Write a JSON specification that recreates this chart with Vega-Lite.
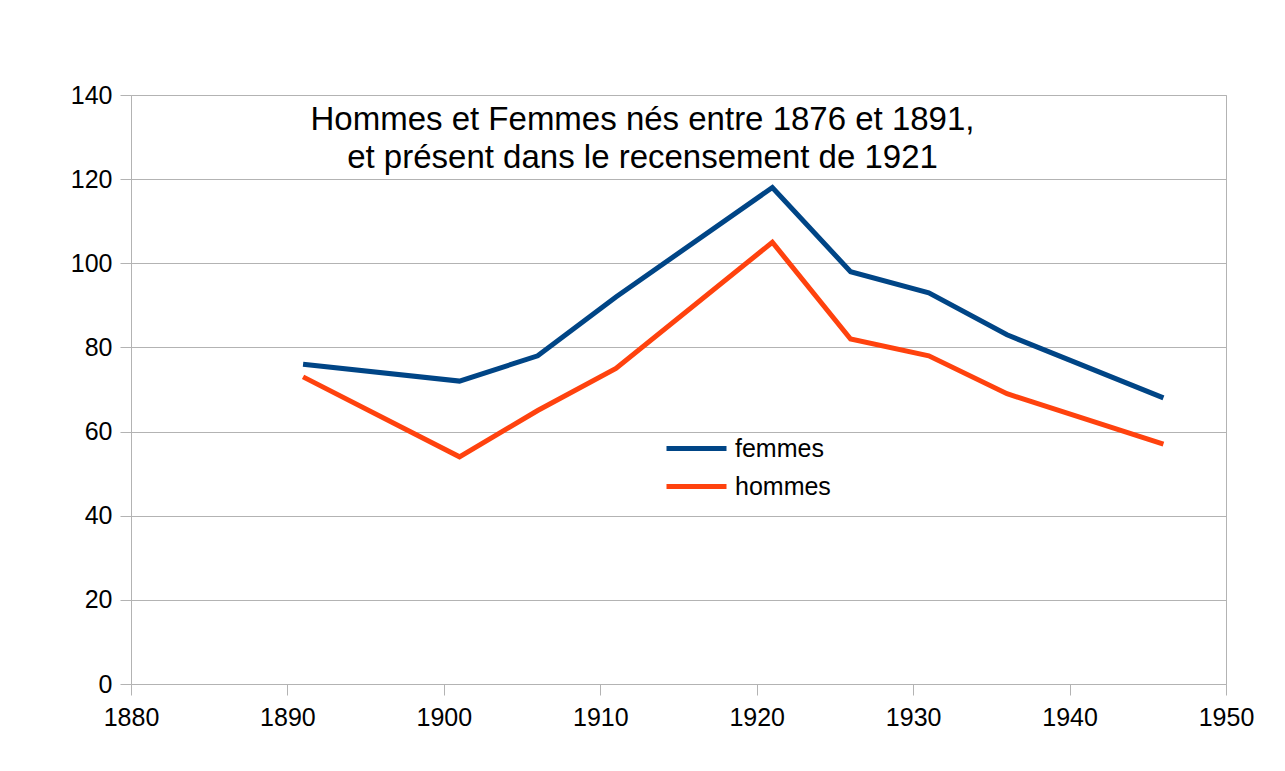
{
  "$schema": "https://vega.github.io/schema/vega-lite/v6.json",
  "width": 1095,
  "height": 589,
  "autosize": "none",
  "padding": {"left": 131, "top": 95, "right": 59, "bottom": 87},
  "background": "white",
  "config": {
    "font": "Liberation Sans",
    "view": {"stroke": "#b3b3b3", "strokeWidth": 1}
  },
  "title": {
    "text": ["Hommes et Femmes nés entre 1876 et 1891,", " et présent dans le recensement de 1921"],
    "font": "Liberation Sans",
    "fontSize": 33,
    "fontWeight": "normal",
    "color": "black",
    "lineHeight": 38,
    "anchor": "middle",
    "frame": "group",
    "dx": -36,
    "dy": 96
  },
  "data": {
    "values": [
      {"annee": 1891, "serie": "femmes", "valeur": 76},
      {"annee": 1901, "serie": "femmes", "valeur": 72},
      {"annee": 1906, "serie": "femmes", "valeur": 78},
      {"annee": 1911, "serie": "femmes", "valeur": 92},
      {"annee": 1921, "serie": "femmes", "valeur": 118},
      {"annee": 1926, "serie": "femmes", "valeur": 98},
      {"annee": 1931, "serie": "femmes", "valeur": 93},
      {"annee": 1936, "serie": "femmes", "valeur": 83},
      {"annee": 1946, "serie": "femmes", "valeur": 68},
      {"annee": 1891, "serie": "hommes", "valeur": 73},
      {"annee": 1901, "serie": "hommes", "valeur": 54},
      {"annee": 1906, "serie": "hommes", "valeur": 65},
      {"annee": 1911, "serie": "hommes", "valeur": 75},
      {"annee": 1921, "serie": "hommes", "valeur": 105},
      {"annee": 1926, "serie": "hommes", "valeur": 82},
      {"annee": 1931, "serie": "hommes", "valeur": 78},
      {"annee": 1936, "serie": "hommes", "valeur": 69},
      {"annee": 1946, "serie": "hommes", "valeur": 57}
    ]
  },
  "mark": {"type": "line", "strokeWidth": 5, "strokeJoin": "miter"},
  "encoding": {
    "x": {
      "field": "annee",
      "type": "quantitative",
      "scale": {"domain": [1880, 1950], "nice": false, "zero": false},
      "axis": {
        "title": null,
        "values": [1880, 1890, 1900, 1910, 1920, 1930, 1940, 1950],
        "format": "d",
        "grid": false,
        "domain": false,
        "tickColor": "#b3b3b3",
        "tickSize": 11,
        "labelPadding": 10,
        "labelFont": "Liberation Sans",
        "labelFontSize": 25,
        "labelColor": "black",
        "labelFlush": false
      }
    },
    "y": {
      "field": "valeur",
      "type": "quantitative",
      "scale": {"domain": [0, 140], "nice": false},
      "axis": {
        "title": null,
        "values": [0, 20, 40, 60, 80, 100, 120, 140],
        "grid": true,
        "gridColor": "#b3b3b3",
        "domain": false,
        "tickColor": "#b3b3b3",
        "tickSize": 11,
        "labelPadding": 8,
        "labelFont": "Liberation Sans",
        "labelFontSize": 25,
        "labelColor": "black"
      }
    },
    "color": {
      "field": "serie",
      "type": "nominal",
      "scale": {"domain": ["femmes", "hommes"], "range": ["#004586", "#ff420e"]},
      "legend": {
        "title": null,
        "orient": "none",
        "legendX": 553,
        "legendY": 341,
        "symbolType": "M-3,0H3",
        "symbolSize": 400,
        "symbolStrokeWidth": 5,
        "labelOffset": 26,
        "labelFont": "Liberation Sans",
        "labelFontSize": 25,
        "labelColor": "black",
        "rowPadding": 12
      }
    }
  }
}
